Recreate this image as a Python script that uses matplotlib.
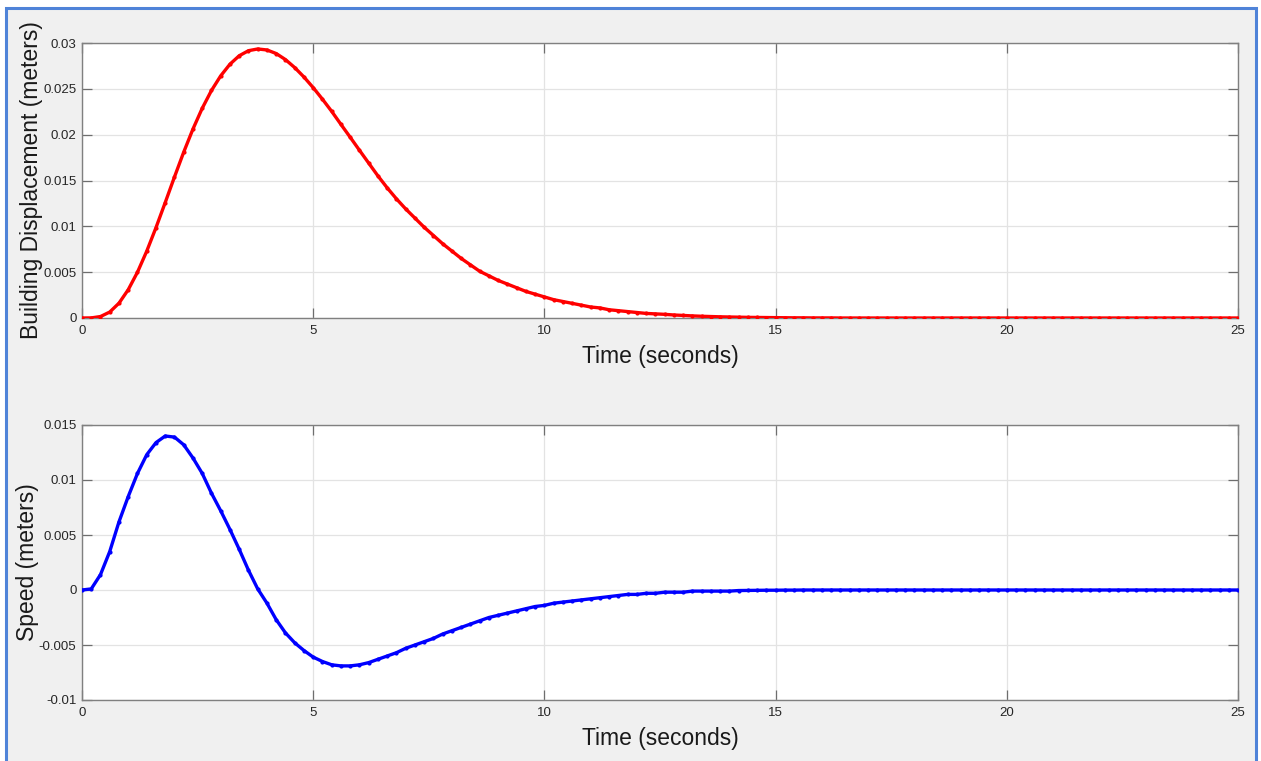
import numpy as np
import matplotlib
matplotlib.use("Agg")
import matplotlib.pyplot as plt
from matplotlib.patches import Rectangle

time_s = np.linspace(0, 25, 126)

displacement_m = [
    0.00000, 0.00001, 0.00016, 0.00065, 0.00162, 0.00309, 0.00500, 0.00729, 0.00986, 0.01260,
    0.01539, 0.01810, 0.02062, 0.02288, 0.02482, 0.02642, 0.02769, 0.02861, 0.02916, 0.02935,
    0.02924, 0.02885, 0.02819, 0.02732, 0.02629, 0.02513, 0.02387, 0.02254, 0.02112, 0.01972,
    0.01830, 0.01690, 0.01550, 0.01420, 0.01300, 0.01190, 0.01090, 0.00990, 0.00900, 0.00810,
    0.00730, 0.00650, 0.00580, 0.00510, 0.00460, 0.00410, 0.00370, 0.00330, 0.00290, 0.00260,
    0.00230, 0.00200, 0.00180, 0.00160, 0.00140, 0.00120, 0.00110, 0.00090, 0.00080, 0.00070,
    0.00060, 0.00050, 0.00045, 0.00040, 0.00033, 0.00028, 0.00023, 0.00019, 0.00016, 0.00013,
    0.00011, 0.00009, 0.00007, 0.00006, 0.00005, 0.00004, 0.00003, 0.00002, 0.00002, 0.00001,
    0.00001, 0.00001, 0.00000, 0.00000, 0.00000, 0.00000, 0.00000, 0.00000, 0.00000, 0.00000,
    0.00000, 0.00000, 0.00000, 0.00000, 0.00000, 0.00000, 0.00000, 0.00000, 0.00000, 0.00000,
    0.00000, 0.00000, 0.00000, 0.00000, 0.00000, 0.00000, 0.00000, 0.00000, 0.00000, 0.00000,
    0.00000, 0.00000, 0.00000, 0.00000, 0.00000, 0.00000, 0.00000, 0.00000, 0.00000, 0.00000,
    0.00000, 0.00000, 0.00000, 0.00000, 0.00000, 0.00000,
]

speed_m = [
    0.0000, 0.0001, 0.0014, 0.0035, 0.0062, 0.0085, 0.0106, 0.0123, 0.0134, 0.0140,
    0.0139, 0.0132, 0.0120, 0.0106, 0.0088, 0.0072, 0.0055, 0.0037, 0.0018, 0.0001,
    -0.0012, -0.0027, -0.0039, -0.0048, -0.0055, -0.0061, -0.0065, -0.0068, -0.0069, -0.0069,
    -0.0068, -0.0066, -0.0063, -0.0060, -0.0057, -0.0053, -0.0050, -0.0047, -0.0044, -0.0040,
    -0.0037, -0.0034, -0.0031, -0.0028, -0.0025, -0.0023, -0.0021, -0.0019, -0.0017, -0.0015,
    -0.0014, -0.0012, -0.0011, -0.0010, -0.0009, -0.0008, -0.0007, -0.0006, -0.0005, -0.0004,
    -0.0004, -0.0003, -0.0003, -0.0002, -0.0002, -0.0002, -0.0001, -0.0001, -0.0001, -0.0001,
    -0.0001, -0.00005, -0.00004, -0.00003, -0.00002, -0.00002, -0.00001, -0.00001, 0.0000, 0.0000,
    0.0000, 0.0000, 0.0000, 0.0000, 0.0000, 0.0000, 0.0000, 0.0000, 0.0000, 0.0000,
    0.0000, 0.0000, 0.0000, 0.0000, 0.0000, 0.0000, 0.0000, 0.0000, 0.0000, 0.0000,
    0.0000, 0.0000, 0.0000, 0.0000, 0.0000, 0.0000, 0.0000, 0.0000, 0.0000, 0.0000,
    0.0000, 0.0000, 0.0000, 0.0000, 0.0000, 0.0000, 0.0000, 0.0000, 0.0000, 0.0000,
    0.0000, 0.0000, 0.0000, 0.0000, 0.0000, 0.0000,
]

x_ticks = [0, 5, 10, 15, 20, 25]
top_yticks = [0, 0.005, 0.01, 0.015, 0.02, 0.025, 0.03]
top_yticklabels = ["0", "0.005", "0.01", "0.015", "0.02", "0.025", "0.03"]
bot_yticks = [-0.01, -0.005, 0, 0.005, 0.01, 0.015]
bot_yticklabels = ["-0.01", "-0.005", "0", "0.005", "0.01", "0.015"]

xlabel_text = "Time (seconds)"
top_ylabel = "Building Displacement (meters)"
bot_ylabel = "Speed (meters)"

# ---- figure ----
plt.rcParams['font.family'] = ['Liberation Sans', 'DejaVu Sans']
W, H = 1261, 761
fig = plt.figure(figsize=(W / 100, H / 100), dpi=100, facecolor="white")

# window frame (gray panel with blue border), drawn behind the axes
frame = Rectangle((6 / W, -0.05), (1256 - 6) / W, 1.05 - 8 / H,
                  transform=fig.transFigure, facecolor="#f0f0f0",
                  edgecolor="#4f83d8", linewidth=2.2, zorder=-10)
fig.add_artist(frame)

spine_col = "#808080"
tick_col = "#262626"

def style_axes(ax, yticks, ylabels, ylim, ylabel):
    ax.set_facecolor("white")
    ax.set_xlim(0, 25)
    ax.set_ylim(*ylim)
    ax.set_xticks(x_ticks)
    ax.set_xticklabels([str(t) for t in x_ticks])
    ax.set_yticks(yticks)
    ax.set_yticklabels(ylabels)
    ax.grid(True, color="#e3e3e3", linewidth=0.9)
    ax.set_axisbelow(True)
    for s in ax.spines.values():
        s.set_color(spine_col)
        s.set_linewidth(1.0)
    ax.tick_params(direction="in", length=7, width=0.9, color="#6e6e6e",
                   top=True, right=True, labelsize=9.5, labelcolor=tick_col)
    ax.tick_params(axis="x", pad=5)
    ax.tick_params(axis="y", pad=4)
    ax.set_xlabel(xlabel_text, fontsize=16.5, color="#1a1a1a", labelpad=6)
    ax.set_ylabel(ylabel, fontsize=16.5, color="#1a1a1a", labelpad=0)

ax1 = fig.add_axes([82 / W, 1 - 318 / H, (1238 - 82) / W, 275 / H], zorder=1)
ax1.plot(time_s, displacement_m, color="red", linewidth=2.4, marker=".",
         markersize=4, zorder=3)
style_axes(ax1, top_yticks, top_yticklabels, (0, 0.03), top_ylabel)

ax2 = fig.add_axes([82 / W, 1 - 700 / H, (1238 - 82) / W, 275 / H], zorder=1)
ax2.plot(time_s, speed_m, color="blue", linewidth=2.4, marker=".",
         markersize=4, zorder=3)
style_axes(ax2, bot_yticks, bot_yticklabels, (-0.01, 0.015), bot_ylabel)

fig.savefig("out.png", dpi=100, facecolor=fig.get_facecolor())
